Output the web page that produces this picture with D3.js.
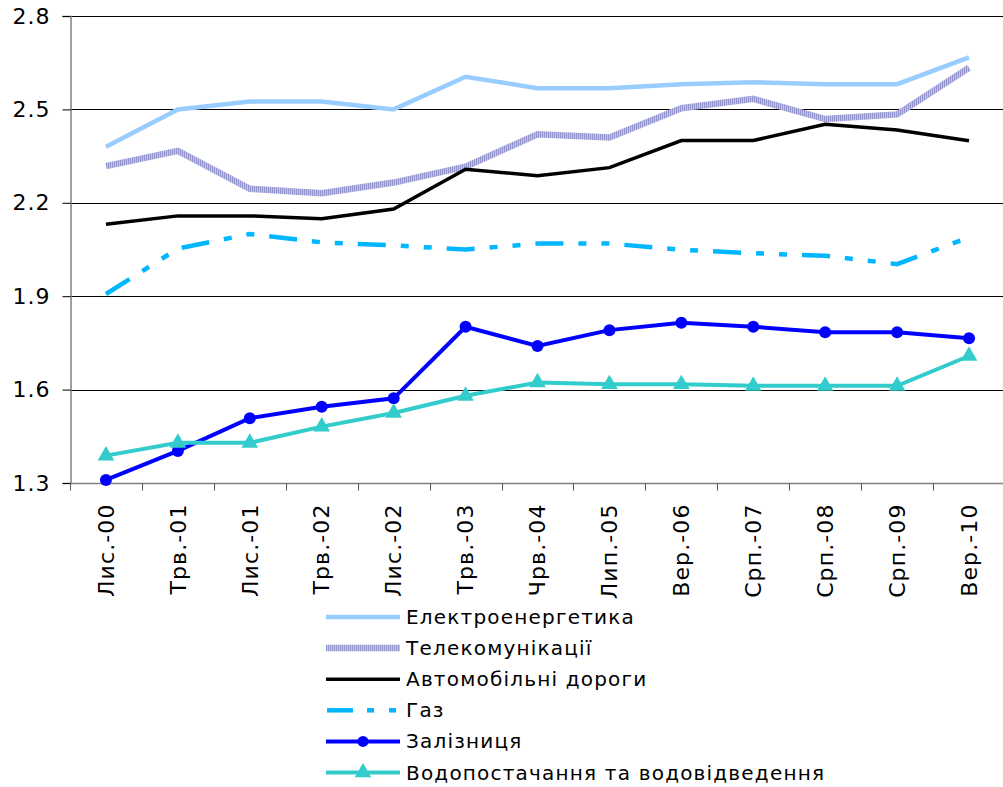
<!DOCTYPE html>
<html>
<head>
<meta charset="utf-8">
<script src="https://cdn.jsdelivr.net/npm/d3@7"></script>
<style>
  html, body { margin: 0; padding: 0; background: #fff; }
  svg { display: block; font-family: "DejaVu Sans", Verdana, sans-serif; }
</style>
</head>
<body>
<svg id="chart" width="1003" height="787"></svg>
<script>
// Period labels along the horizontal axis
const periods = ["Лис.-00", "Трв.-01", "Лис.-01", "Трв.-02", "Лис.-02", "Трв.-03", "Чрв.-04",
                 "Лип.-05", "Вер.-06", "Срп.-07", "Срп.-08", "Срп.-09", "Вер.-10"];

// Vertical axis ticks
const yTicks = [1.3, 1.6, 1.9, 2.2, 2.5, 2.8];

// Series values by sector
const electricity = [2.38, 2.50, 2.525, 2.525, 2.50, 2.605, 2.568, 2.568, 2.581, 2.587, 2.581, 2.581, 2.667];
const telecom     = [2.318, 2.367, 2.245, 2.231, 2.265, 2.316, 2.42, 2.41, 2.504, 2.534, 2.469, 2.484, 2.634];
const roads       = [2.131, 2.158, 2.158, 2.149, 2.18, 2.308, 2.287, 2.313, 2.40, 2.40, 2.452, 2.434, 2.399];
const gas         = [1.907, 2.053, 2.10, 2.073, 2.063, 2.05, 2.069, 2.069, 2.049, 2.038, 2.03, 2.003, 2.089];
const railway     = [1.31, 1.403, 1.508, 1.545, 1.572, 1.802, 1.74, 1.791, 1.815, 1.802, 1.784, 1.784, 1.765];
const water       = [1.388, 1.429, 1.429, 1.481, 1.525, 1.58, 1.623, 1.617, 1.617, 1.612, 1.612, 1.612, 1.708];

const seriesNames = ["Електроенергетика", "Телекомунікації", "Автомобільні дороги", "Газ",
                     "Залізниця", "Водопостачання та водовідведення"];

const series = [
  { name: seriesNames[0], values: electricity, stroke: "#99CCFF", width: 4.5 },
  { name: seriesNames[1], values: telecom, stroke: "url(#hatch)", width: 6.5 },
  { name: seriesNames[2], values: roads, stroke: "#000000", width: 3.5 },
  { name: seriesNames[3], values: gas, stroke: "#00B6FF", width: 4.5, dash: "28,15,8,15,8,15" },
  { name: seriesNames[4], values: railway, stroke: "#0000FF", width: 4, marker: "circle" },
  { name: seriesNames[5], values: water, stroke: "#33CCCC", width: 4, marker: "triangle" }
];

const svg = d3.select("#chart");
const plot = { left: 70, right: 1005, top: 16, bottom: 483 };

// Striped pattern for the telecom line
const defs = svg.append("defs");
const pat = defs.append("pattern")
  .attr("id", "hatch")
  .attr("patternUnits", "userSpaceOnUse")
  .attr("width", 2).attr("height", 2);
pat.append("rect").attr("width", 2).attr("height", 2).attr("fill", "#C4C4EA");
pat.append("rect").attr("width", 1).attr("height", 2).attr("fill", "#9494CC");

const x = d3.scalePoint().domain(periods).range([plot.left, plot.right]).padding(0.5);
const xBand = d3.scaleBand().domain(periods).range([plot.left, plot.right]);
const y = d3.scaleLinear().domain([1.3, 2.8]).range([plot.bottom, plot.top]);

// Horizontal gridlines
svg.append("g")
  .selectAll("line")
  .data(yTicks.filter(d => d > 1.3))
  .join("line")
  .attr("x1", plot.left).attr("x2", 1003)
  .attr("y1", d => Math.round(y(d)) + 0.5).attr("y2", d => Math.round(y(d)) + 0.5)
  .attr("stroke", "#000").attr("stroke-width", 1);

// Y axis
const yAxis = svg.append("g")
  .attr("transform", `translate(${plot.left + 0.5},0)`)
  .call(d3.axisLeft(y).tickValues(yTicks).tickFormat(d3.format(".1f")).tickSize(8).tickPadding(12));
yAxis.select(".domain").attr("stroke", "#808080").attr("stroke-width", 1.5);
yAxis.selectAll(".tick line").attr("stroke", "#000");
yAxis.selectAll(".tick text").attr("font-size", 22).attr("fill", "#000")
  .attr("letter-spacing", 1)
  .attr("font-family", "DejaVu Sans, Verdana, sans-serif");

// X axis: tick marks between categories
const xAxisG = svg.append("g").attr("transform", `translate(0,${Math.round(plot.bottom) + 0.5})`);
xAxisG.append("line")
  .attr("x1", plot.left).attr("x2", 1003)
  .attr("stroke", "#808080").attr("stroke-width", 1.5);
const boundaries = periods.map(p => xBand(p));
xAxisG.selectAll("line.sep")
  .data(boundaries)
  .join("line").attr("class", "sep")
  .attr("x1", d => Math.round(d) + 0.5).attr("x2", d => Math.round(d) + 0.5)
  .attr("y1", 0).attr("y2", 7)
  .attr("stroke", "#555").attr("stroke-width", 1);
xAxisG.selectAll("text")
  .data(periods)
  .join("text")
  .attr("transform", d => `translate(${x(d)},20) rotate(-90)`)
  .attr("text-anchor", "end")
  .attr("dy", "0.35em")
  .attr("font-size", 22)
  .attr("letter-spacing", 1.1)
  .attr("fill", "#000")
  .text(d => d);

// Lines
const line = d3.line().x((d, i) => x(periods[i])).y(d => y(d));
const linesG = svg.append("g");
series.forEach(s => {
  linesG.append("path")
    .datum(s.values)
    .attr("fill", "none")
    .attr("stroke", s.stroke)
    .attr("stroke-width", s.width)
    .attr("stroke-linejoin", "miter")
    .attr("stroke-dasharray", s.dash || null)
    .attr("d", line);
});

// Markers
const tri = d3.symbol().type(d3.symbolTriangle).size(120);
series.forEach(s => {
  if (s.marker === "circle") {
    linesG.append("g").selectAll("circle")
      .data(s.values).join("circle")
      .attr("cx", (d, i) => x(periods[i])).attr("cy", d => y(d))
      .attr("r", 6).attr("fill", s.stroke);
  } else if (s.marker === "triangle") {
    linesG.append("g").selectAll("path")
      .data(s.values).join("path")
      .attr("transform", (d, i) => `translate(${x(periods[i])},${y(d)})`)
      .attr("d", tri).attr("fill", s.stroke);
  }
});

// Legend
const legend = svg.append("g").attr("transform", "translate(326,617)");
const rowH = 31.1;
series.forEach((s, i) => {
  const g = legend.append("g").attr("transform", `translate(0,${i * rowH})`);
  if (s.dash) {
    g.append("line").attr("x1", 1).attr("x2", 27).attr("stroke", s.stroke).attr("stroke-width", s.width);
    g.append("line").attr("x1", 41).attr("x2", 48).attr("stroke", s.stroke).attr("stroke-width", s.width);
    g.append("line").attr("x1", 63).attr("x2", 70).attr("stroke", s.stroke).attr("stroke-width", s.width);
  } else {
    g.append("line").attr("x1", 0).attr("x2", 74)
      .attr("stroke", s.stroke).attr("stroke-width", s.width);
  }
  if (s.marker === "circle") {
    g.append("circle").attr("cx", 37).attr("r", 5.5).attr("fill", s.stroke);
  } else if (s.marker === "triangle") {
    g.append("path").attr("transform", "translate(37,0)").attr("d", tri).attr("fill", s.stroke);
  }
  g.append("text").attr("x", 80).attr("dy", "0.35em")
    .attr("font-size", 20).attr("letter-spacing", 1.2)
    .attr("fill", "#000").text(s.name);
});
</script>
</body>
</html>
